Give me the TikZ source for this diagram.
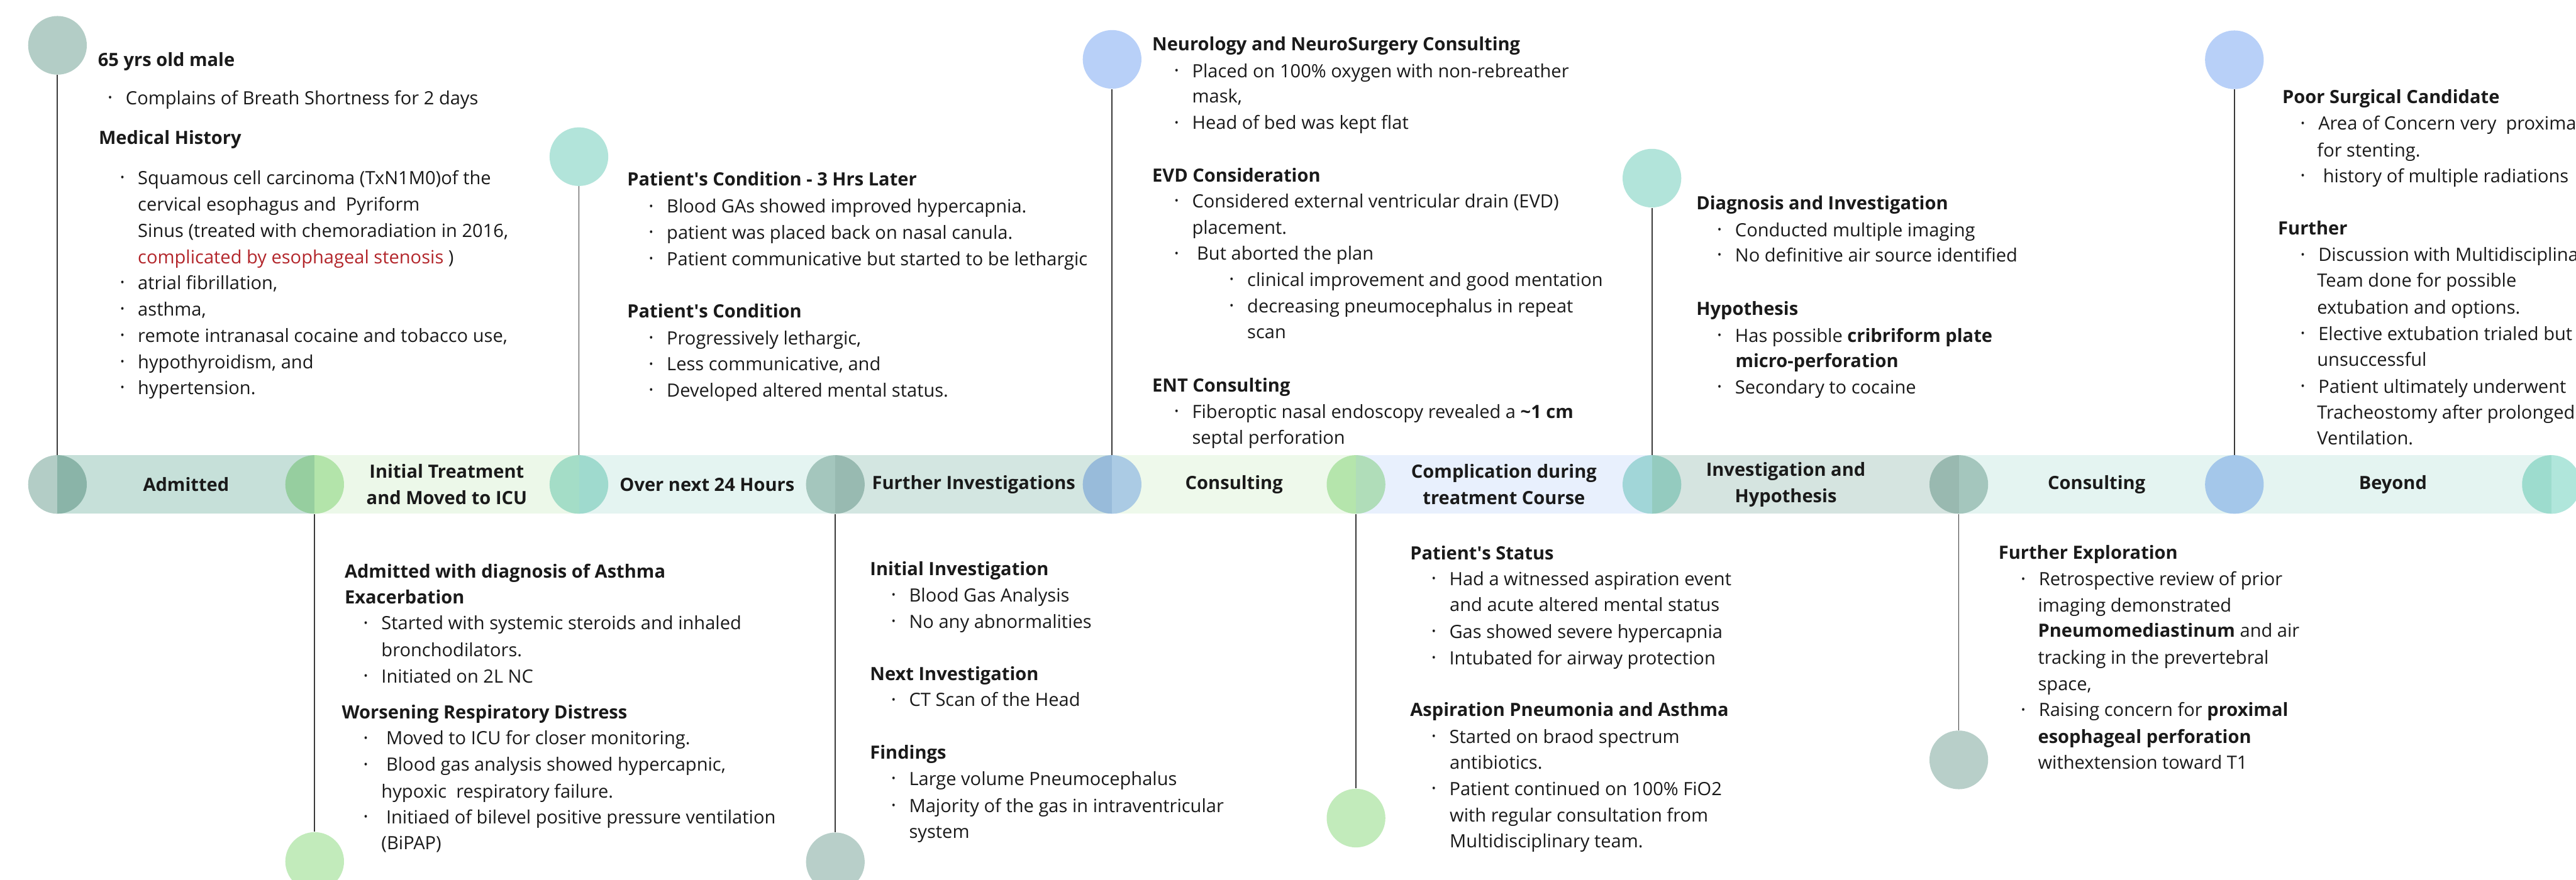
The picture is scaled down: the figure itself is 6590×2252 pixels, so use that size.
\documentclass[tikz,border=0pt]{standalone}
\usepackage{graphicx}
\usepackage{fontspec}
\setmainfont{Open Sans}
\definecolor{ink}{HTML}{1A1A1A}
\definecolor{redtxt}{HTML}{B3262B}
\definecolor{linec}{HTML}{3A3A3A}
\definecolor{cgt}{HTML}{B3CDC6}
\definecolor{cgtb}{HTML}{B8CFC9}
\definecolor{cgreen}{HTML}{C2EBBB}
\definecolor{cmint}{HTML}{B2E4DA}
\definecolor{cmintb}{HTML}{B0E6DB}
\definecolor{cblue}{HTML}{B8D0F8}
\definecolor{segA}{HTML}{C6E0D9}
\definecolor{segB}{HTML}{ECF8E9}
\definecolor{segC}{HTML}{E4F4F1}
\definecolor{segD}{HTML}{D3E6E1}
\definecolor{segE}{HTML}{EEF9EB}
\definecolor{segF}{HTML}{E8F0FD}
\definecolor{segG}{HTML}{D5E4E0}
\newcommand{\bodyfont}{\fontsize{13.3pt}{19pt}\selectfont}
\newcommand{\bulit}{\makebox[0.45cm][l]{\raisebox{0.3ex}{\scalebox{0.6}{\textbullet}}}}
\newcommand{\apo}{\textquotesingle}
\tikzset{ball/.style={circle,minimum size=1.5cm,inner sep=0pt},
  txt/.style={anchor=base west,inner sep=0pt,text=ink,font=\bodyfont},
  hd/.style={txt,font=\bodyfont\bfseries},
  lbl/.style={align=center,inner sep=0pt,text=ink,font=\bodyfont\bfseries},
  link/.style={draw=linec,line width=0.8pt}}

\begin{document}
\begin{tikzpicture}[x=0.01cm,y=-0.01cm]
\fill[white] (0,0) rectangle (6590,2252);
\useasboundingbox (0,0) rectangle (6590,2252);
% band
\fill[segA] (147,1165) rectangle (805,1315);
\fill[segB] (805,1165) rectangle (1481,1315);
\fill[segC] (1481,1165) rectangle (2137,1315);
\fill[segD] (2137,1165) rectangle (2845,1315);
\fill[segE] (2845,1165) rectangle (3469,1315);
\fill[segF] (3469,1165) rectangle (4226,1315);
\fill[segG] (4226,1165) rectangle (5011,1315);
\fill[segC] (5011,1165) rectangle (6527,1315);
\begin{scope}[blend mode=multiply]
\node[ball,fill=cgt] (b1) at (147,1240) {};
\node[ball,fill=cgreen] (b2) at (805,1240) {};
\node[ball,fill=cmint] (b3) at (1481,1240) {};
\node[ball,fill=cgtb] (b4) at (2137,1240) {};
\node[ball,fill=cblue] (b5) at (2845,1240) {};
\node[ball,fill=cgreen] (b6) at (3469,1240) {};
\node[ball,fill=cmint] (b7) at (4226,1240) {};
\node[ball,fill=cgtb] (b8) at (5011,1240) {};
\node[ball,fill=cblue] (b9) at (5716,1240) {};
\node[ball,fill=cmintb] (b10) at (6527,1240) {};
\end{scope}
% end circles
\node[ball,fill=cgt] (t1) at (147,116) {};
\node[ball,fill=cgreen] (t2) at (805,2205) {};
\node[ball,fill=cmint] (t3) at (1481,401) {};
\node[ball,fill=cgtb] (t4) at (2137,2206) {};
\node[ball,fill=cblue] (t5) at (2845,152) {};
\node[ball,fill=cgreen] (t6) at (3469,2094) {};
\node[ball,fill=cmint] (t7) at (4226,456) {};
\node[ball,fill=cgtb] (t8) at (5011,1945) {};
\node[ball,fill=cblue] (t9) at (5716,153) {};
\draw[link] (b1.north) -- (t1.south);
\draw[link] (b2.south) -- (t2.north);
\draw[link] (b3.north) -- (t3.south);
\draw[link] (b4.south) -- (t4.north);
\draw[link] (b5.north) -- (t5.south);
\draw[link] (b6.south) -- (t6.north);
\draw[link] (b7.north) -- (t7.south);
\draw[link] (b8.south) -- (t8.north);
\draw[link] (b9.north) -- (t9.south);
% band labels
\path (b1) -- (b2) node[midway,lbl] (l1) {Admitted};
\path (b2) -- (b3) node[midway,lbl] (l2) {Initial Treatment\\and Moved to ICU};
\path (b3) -- (b4) node[midway,lbl] (l3) {Over next 24 Hours};
\path (b4) -- (b5) node[midway,lbl] (l4) {Further Investigations};
\path (b5) -- (b6) node[midway,lbl] (l5) {Consulting};
\path (b6) -- (b7) node[midway,lbl] (l6) {Complication during\\treatment Course};
\path (b7) -- (b8) node[midway,lbl,xshift=-0.5cm] (l7) {Investigation and\\Hypothesis};
\path (b8) -- (b9) node[midway,lbl] (l8) {Consulting};
\path (b9) -- (b10) node[midway,lbl] (l9) {Beyond};
% admitted
\node[hd] (a1) at (250,169) {65 yrs old male};
\node[txt] (a2) at (276,268) {\bulit Complains of Breath Shortness for 2 days};
\node[hd] (a3) at (252,369) {Medical History};
\node[txt] (a4) at (307,472) {\bulit Squamous cell carcinoma (TxN1M0)of the};
\node[txt] (a5) at (352,539) {cervical esophagus and\ \ Pyriform};
\node[txt] (a6) at (352,607) {Sinus (treated with chemoradiation in 2016,};
\node[txt] (a7) at (352,675) {\textcolor{redtxt}{complicated by esophageal stenosis} )};
\node[txt] (a8) at (307,741) {\bulit atrial fibrillation,};
\node[txt] (a9) at (307,808) {\bulit asthma,};
\node[txt] (a10) at (307,876) {\bulit remote intranasal cocaine and tobacco use,};
\node[txt] (a11) at (307,943) {\bulit hypothyroidism, and};
\node[txt] (a12) at (307,1009) {\bulit hypertension.};
% initial treatment
\node[hd] (i1) at (881,1479) {Admitted with diagnosis of Asthma};
\node[hd] (i2) at (881,1546) {Exacerbation};
\node[txt] (i3) at (930,1612) {\bulit Started with systemic steroids and inhaled};
\node[txt] (i4) at (975,1680) {bronchodilators.};
\node[txt] (i5) at (930,1748) {\bulit Initiated on 2L NC};
\node[hd] (i6) at (874,1840) {Worsening Respiratory Distress};
\node[txt] (i7) at (930,1906) {\bulit\ Moved to ICU for closer monitoring.};
\node[txt] (i8) at (930,1974) {\bulit\ Blood gas analysis showed hypercapnic,};
\node[txt] (i9) at (975,2042) {hypoxic\ \ respiratory failure.};
\node[txt] (i10) at (930,2108) {\bulit\ Initiaed of bilevel positive pressure ventilation};
\node[txt] (i11) at (975,2175) {(BiPAP)};
% over next 24 hours
\node[hd] (o1) at (1604,476) {Patient\apo s Condition - 3 Hrs Later};
\node[txt] (o2) at (1660,545) {\bulit Blood GAs showed improved hypercapnia.};
\node[txt] (o3) at (1660,612) {\bulit patient was placed back on nasal canula.};
\node[txt] (o4) at (1660,679) {\bulit Patient communicative but started to be lethargic};
\node[hd] (o5) at (1604,813) {Patient\apo s Condition};
\node[txt] (o6) at (1660,882) {\bulit Progressively lethargic,};
\node[txt] (o7) at (1660,949) {\bulit Less communicative, and};
\node[txt] (o8) at (1660,1016) {\bulit Developed altered mental status.};
% further investigations
\node[hd] (f1) at (2225,1473) {Initial Investigation};
\node[txt] (f2) at (2280,1540) {\bulit Blood Gas Analysis};
\node[txt] (f3) at (2280,1608) {\bulit No any abnormalities};
\node[hd] (f4) at (2225,1742) {Next Investigation};
\node[txt] (f5) at (2280,1808) {\bulit CT Scan of the Head};
\node[hd] (f6) at (2225,1943) {Findings};
\node[txt] (f7) at (2280,2010) {\bulit Large volume Pneumocephalus};
\node[txt] (f8) at (2280,2079) {\bulit Majority of the gas in intraventricular};
\node[txt] (f9) at (2325,2145) {system};
% consulting
\node[hd] (e1) at (2947,129) {Neurology and NeuroSurgery Consulting};
\node[txt] (e2) at (3004,198) {\bulit Placed on 100\% oxygen with non-rebreather};
\node[txt] (e3) at (3049,263) {mask,};
\node[txt] (e4) at (3004,331) {\bulit Head of bed was kept flat};
\node[hd] (e5) at (2947,465) {EVD Consideration};
\node[txt] (e6) at (3004,532) {\bulit Considered external ventricular drain (EVD)};
\node[txt] (e7) at (3049,599) {placement.};
\node[txt] (e8) at (3004,666) {\bulit\ But aborted the plan};
\node[txt] (e9) at (3145,733) {\bulit clinical improvement and good mentation};
\node[txt] (e10) at (3145,800) {\bulit decreasing pneumocephalus in repeat};
\node[txt] (e11) at (3190,867) {scan};
\node[hd] (e12) at (2947,1003) {ENT Consulting};
\node[txt] (e13) at (3004,1070) {\bulit Fiberoptic nasal endoscopy revealed a \textbf{\textasciitilde1 cm}};
\node[txt] (e14) at (3049,1137) {septal perforation};
% complication
\node[hd] (c1) at (3607,1432) {Patient\apo s Status};
\node[txt] (c2) at (3662,1498) {\bulit Had a witnessed aspiration event};
\node[txt] (c3) at (3708,1564) {and acute altered mental status};
\node[txt] (c4) at (3662,1634) {\bulit Gas showed severe hypercapnia};
\node[txt] (c5) at (3662,1701) {\bulit Intubated for airway protection};
\node[hd] (c6) at (3607,1834) {Aspiration Pneumonia and Asthma};
\node[txt] (c7) at (3662,1902) {\bulit Started on braod spectrum};
\node[txt] (c8) at (3708,1968) {antibiotics.};
\node[txt] (c9) at (3662,2036) {\bulit Patient continued on 100\% FiO2};
\node[txt] (c10) at (3708,2103) {with regular consultation from};
\node[txt] (c11) at (3708,2170) {Multidisciplinary team.};
% investigation and hypothesis
\node[hd] (h1) at (4339,536) {Diagnosis and Investigation};
\node[txt] (h2) at (4393,606) {\bulit Conducted multiple imaging};
\node[txt] (h3) at (4393,670) {\bulit No definitive air source identified};
\node[hd] (h4) at (4339,807) {Hypothesis};
\node[txt] (h5) at (4393,876) {\bulit Has possible \textbf{cribriform plate}};
\node[txt] (h6) at (4439,940) {\textbf{micro-perforation}};
\node[txt] (h7) at (4393,1008) {\bulit Secondary to cocaine};
% consulting 2
\node[hd] (x1) at (5112,1431) {Further Exploration};
\node[txt] (x2) at (5170,1499) {\bulit Retrospective review of prior};
\node[txt] (x3) at (5213,1566) {imaging demonstrated};
\node[txt] (x4) at (5213,1631) {\textbf{Pneumomediastinum} and air};
\node[txt] (x5) at (5213,1700) {tracking in the prevertebral};
\node[txt] (x6) at (5213,1767) {space,};
\node[txt] (x7) at (5170,1834) {\bulit Raising concern for \textbf{proximal}};
\node[txt] (x8) at (5213,1902) {\textbf{esophageal perforation}};
\node[txt] (x9) at (5213,1968) {withextension toward T1};
% beyond
\node[hd] (y1) at (5838,265) {Poor Surgical Candidate};
\node[txt] (y2) at (5885,333) {\bulit Area of Concern very\ \ proximal};
\node[txt] (y3) at (5927,401) {for stenting.};
\node[txt] (y4) at (5885,467) {\bulit\ history of multiple radiations};
\node[hd] (y5) at (5827,601) {Further};
\node[txt] (y6) at (5885,669) {\bulit Discussion with Multidisciplinary};
\node[txt] (y7) at (5927,735) {Team done for possible};
\node[txt] (y8) at (5927,803) {extubation and options.};
\node[txt] (y9) at (5885,871) {\bulit Elective extubation trialed but};
\node[txt] (y10) at (5927,937) {unsuccessful};
\node[txt] (y11) at (5885,1006) {\bulit Patient ultimately underwent};
\node[txt] (y12) at (5927,1072) {Tracheostomy after prolonged};
\node[txt] (y13) at (5927,1139) {Ventilation.};
\end{tikzpicture}
\end{document}
